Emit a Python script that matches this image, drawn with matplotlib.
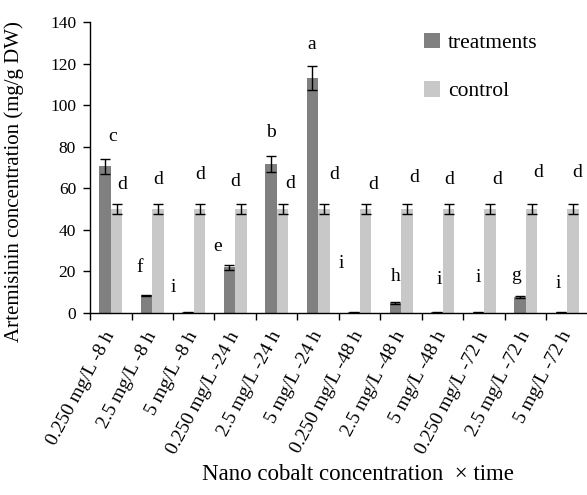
import matplotlib
matplotlib.use('Agg')
import matplotlib.pyplot as plt
import numpy as np

plt.rcParams['font.family'] = ['Liberation Serif', 'DejaVu Serif']

groups = ['0.250 mg/L -8 h', '2.5 mg/L -8 h', '5 mg/L -8 h',
          '0.250 mg/L -24 h', '2.5 mg/L -24 h', '5 mg/L -24 h',
          '0.250 mg/L -48 h', '2.5 mg/L -48 h', '5 mg/L -48 h',
          '0.250 mg/L -72 h', '2.5 mg/L -72 h', '5 mg/L -72 h']
treatments = [70.5, 8.5, 0.3, 22.0, 71.5, 113.0, 0.3, 4.8, 0.3, 0.3, 7.8, 0.3]
treatments_err = [3.5, 0.4, 0.1, 1.2, 3.8, 5.7, 0.1, 0.4, 0.1, 0.1, 0.4, 0.1]
control = [50.0] * 12
control_err = [2.5] * 12

treat_letters = ['c', 'f', 'i', 'e', 'b', 'a', 'i', 'h', 'i', 'i', 'g', 'i']
ctrl_letters = ['d'] * 12

# where the significance letters sit (group units, data units)
treat_lx = [0.05, 0.70, 1.50, 2.58, 3.86, 4.85, 5.55, 6.87, 7.91, 8.85, 9.77, 10.78]
treat_ly = [84.7, 22.0, 12.4, 31.8, 87.0, 129.0, 23.8, 17.7, 16.1, 17.3, 18.2, 14.4]
ctrl_lx = [0.27, 1.14, 2.15, 2.99, 4.32, 5.38, 6.32, 7.31, 8.15, 9.31, 10.30, 11.23]
ctrl_ly = [62.0, 64.4, 66.4, 63.5, 62.5, 66.4, 62.0, 65.0, 64.0, 64.4, 67.4, 67.4]

dark = '#808080'
light = '#c8c8c8'

fig = plt.figure(figsize=(5.87, 4.95), dpi=100)
ax = fig.add_axes([90 / 587, 1 - 313 / 495, 498 / 587, 291 / 495])

x = np.arange(len(groups))
w = 0.28
err_kw = dict(ecolor='black', elinewidth=1.0, capsize=3.5, capthick=1.0)
ax.bar(x - w / 2, treatments, w, yerr=treatments_err, color=dark,
       label='treatments', error_kw=err_kw)
ax.bar(x + w / 2, control, w, yerr=control_err, color=light,
       label='control', error_kw=err_kw)

for lx, ly, s in zip(treat_lx, treat_ly, treat_letters):
    ax.text(lx, ly, s, ha='center', va='center', fontsize=14)
for lx, ly, s in zip(ctrl_lx, ctrl_ly, ctrl_letters):
    ax.text(lx, ly, s, ha='center', va='center', fontsize=14)

ax.set_xlim(-0.5, len(groups) - 0.5)
ax.set_ylim(0, 140)
ax.set_yticks(np.arange(0, 141, 20))
ax.tick_params(axis='y', labelsize=12.5, direction='out', length=5, width=1, pad=5)

# ticks between the groups, labels under the group centres
ax.set_xticks(np.arange(len(groups)) - 0.5, minor=False)
ax.set_xticklabels([])
ax.set_xticks(x, minor=True)
ax.set_xticklabels(groups, minor=True, rotation=62, ha='right', va='center',
                   rotation_mode='anchor', fontsize=14)
ax.tick_params(axis='x', which='major', direction='out', length=5, width=1)
ax.tick_params(axis='x', which='minor', length=0, pad=14)

for side in ['top', 'right']:
    ax.spines[side].set_visible(False)
for side in ['left', 'bottom']:
    ax.spines[side].set_linewidth(1)

ax.set_ylabel('Artemisinin concentration (mg/g DW)', fontsize=15)
ax.yaxis.set_label_coords(-0.133, 0.45)
fig.text(358 / 587, 1 - 475 / 495, 'Nano cobalt concentration  \u00d7 time',
         ha='center', va='center', fontsize=16.5)

ax.legend(loc='upper left', bbox_to_anchor=(0.632, 1.03), frameon=False,
          fontsize=15.5, handlelength=0.75, handleheight=0.75,
          labelspacing=1.3, handletextpad=0.35)

fig.savefig('out.png', dpi=100)
